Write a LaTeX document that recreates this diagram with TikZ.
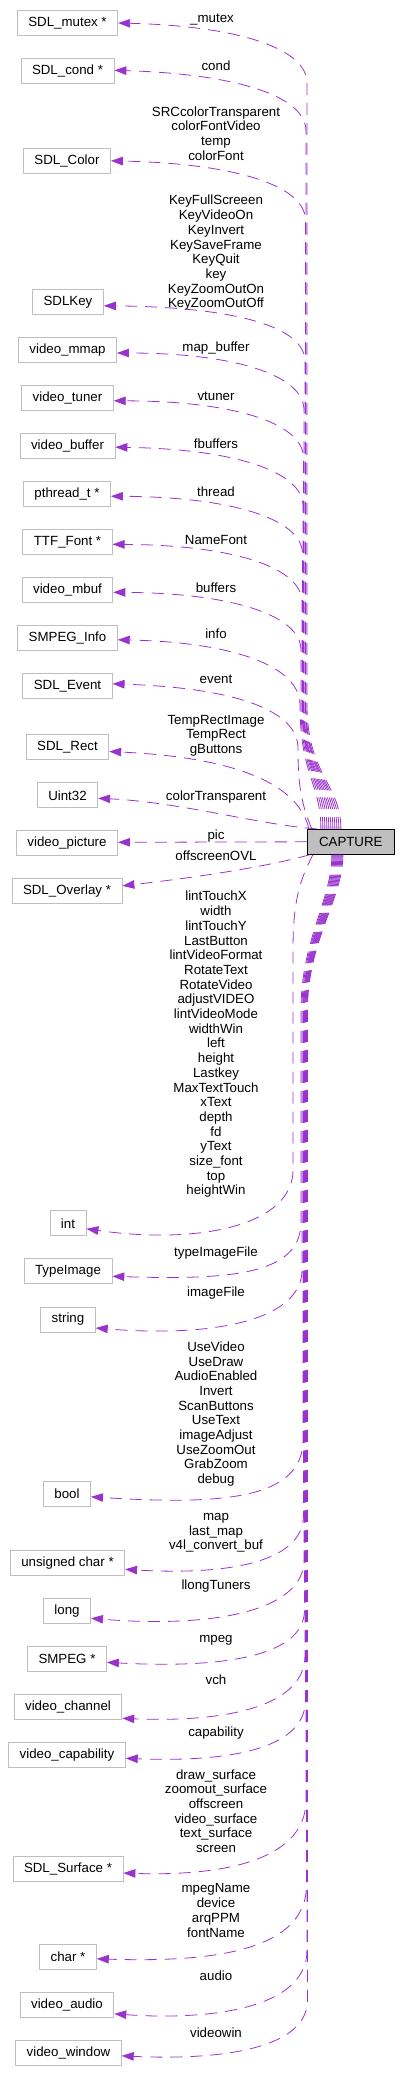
\documentclass[tikz,border=0pt]{standalone}
\usepackage{fontspec}
\setmainfont{Liberation Sans}
\usepackage{xcolor}
\usepackage{tikz}
\usetikzlibrary{arrows.meta}
\definecolor{boxgray}{HTML}{BFBFBF}
\definecolor{deppurple}{HTML}{9A32CD}

\begin{document}
\begin{tikzpicture}[x=1pt, y=-1pt, font=\fontsize{13.3}{14.7}\selectfont, >={Triangle[length=12pt, width=8.5pt]},
  box/.style={draw=boxgray, line width=0.8pt, minimum height=25pt, inner xsep=11pt, inner ysep=0pt},
  mainbox/.style={box, draw=black, fill=boxgray, minimum width=87pt},
  lbl/.style={align=center, inner sep=0pt},
  dep/.style={->, draw=deppurple, line width=0.8pt, dash pattern=on 12pt off 8pt}]
\useasboundingbox (0,0) rectangle (401,2083);
\node[mainbox] (capture) at (350.8,841.8) {CAPTURE};
\node[box] (mutex) at (67.5,23) {SDL\_mutex *};
\node[box] (cond) at (67.5,71.3) {SDL\_cond *};
\node[box] (sdlcolor) at (67,160.8) {SDL\_Color};
\node[box] (sdlkey) at (68,301.8) {SDLKey};
\node[box] (mmap) at (67.5,350) {video\_mmap};
\node[box] (tuner) at (67.5,397.8) {video\_tuner};
\node[box] (vbuffer) at (67.5,445.7) {video\_buffer};
\node[box] (pthread) at (67,493.7) {pthread\_t *};
\node[box] (ttffont) at (67.5,541.8) {TTF\_Font *};
\node[box] (mbuf) at (67.5,589.8) {video\_mbuf};
\node[box] (smpeginfo) at (67.5,637.8) {SMPEG\_Info};
\node[box] (sdlevent) at (67.5,685.8) {SDL\_Event};
\node[box] (sdlrect) at (67.5,747) {SDL\_Rect};
\node[box] (uint) at (67.5,795.3) {Uint32};
\node[box] (picture) at (67,843.3) {video\_picture};
\node[box] (overlay) at (67,891.3) {SDL\_Overlay *};
\node[box] (tint) at (68,1223.3) {int};
\node[box] (timage) at (68,1271.3) {TypeImage};
\node[box] (tstring) at (68,1319.5) {string};
\node[box] (tbool) at (67,1493.8) {bool};
\node[box] (uchar) at (67.5,1563.3) {unsigned char *};
\node[box] (tlong) at (67,1611.3) {long};
\node[box] (smpeg) at (67,1659.3) {SMPEG *};
\node[box] (vchannel) at (68,1707.3) {video\_channel};
\node[box] (vcap) at (67,1755.3) {video\_capability};
\node[box] (surface) at (68,1869) {SDL\_Surface *};
\node[box] (charp) at (68,1956.8) {char *};
\node[box] (vaudio) at (67,2004.8) {video\_audio};
\node[box] (vwindow) at (68.5,2052.8) {video\_window};
\node[lbl] (lmutex) at (212,20) {\_mutex};
\node[lbl] (lcond) at (216,66) {cond};
\node[lbl] (lcolor) at (216,133.5) {SRCcolorTransparent\\colorFontVideo\\temp\\colorFont};
\node[lbl] (lkey) at (216,253) {KeyFullScreeen\\KeyVideoOn\\KeyInvert\\KeySaveFrame\\KeyQuit\\key\\KeyZoomOutOn\\KeyZoomOutOff};
\node[lbl] (lmmap) at (216,348) {map\_buffer};
\node[lbl] (ltuner) at (216,396) {vtuner};
\node[lbl] (lvbuffer) at (216,443.5) {fbuffers};
\node[lbl] (lpthread) at (216,492) {thread};
\node[lbl] (lttffont) at (216,539.5) {NameFont};
\node[lbl] (lmbuf) at (216,588) {buffers};
\node[lbl] (lsmpeginfo) at (216,633.5) {info};
\node[lbl] (lsdlevent) at (216,679.5) {event};
\node[lbl] (lsdlrect) at (216,735.5) {TempRectImage\\TempRect\\gButtons};
\node[lbl] (luint) at (216,797) {colorTransparent};
\node[lbl] (lpicture) at (216,836) {pic};
\node[lbl] (loverlay) at (216,856) {offscreenOVL};
\node[lbl] (ltint) at (216,1044.5) {lintTouchX\\width\\lintTouchY\\LastButton\\lintVideoFormat\\RotateText\\RotateVideo\\adjustVIDEO\\lintVideoMode\\widthWin\\left\\height\\Lastkey\\MaxTextTouch\\xText\\depth\\fd\\yText\\size\_font\\top\\heightWin};
\node[lbl] (ltimage) at (216,1253) {typeImageFile};
\node[lbl] (ltstring) at (216,1293) {imageFile};
\node[lbl] (ltbool) at (216,1414) {UseVideo\\UseDraw\\AudioEnabled\\Invert\\ScanButtons\\UseText\\imageAdjust\\UseZoomOut\\GrabZoom\\debug};
\node[lbl] (luchar) at (216,1533) {map\\last\_map\\v4l\_convert\_buf};
\node[lbl] (ltlong) at (216,1586) {llongTuners};
\node[lbl] (lsmpeg) at (216,1640) {mpeg};
\node[lbl] (lvchannel) at (216,1680) {vch};
\node[lbl] (lvcap) at (216,1733.5) {capability};
\node[lbl] (lsurface) at (216,1811) {draw\_surface\\zoomout\_surface\\offscreen\\video\_surface\\text\_surface\\screen};
\node[lbl] (lcharp) at (216,1910.5) {mpegName\\device\\arqPPM\\fontName};
\node[lbl] (lvaudio) at (216,1976) {audio};
\node[lbl] (lvwindow) at (216,2033) {videowin};
\draw[dep] ([xshift=34pt]capture.north west) .. controls +(0,-45) and +(0,70) .. (307,705) -- (307,83) .. controls (307,48) and (237,26) .. (mutex.east);
\draw[dep] ([xshift=32pt]capture.north west) .. controls +(0,-45) and +(0,70) .. (306,705) -- (306,131) .. controls (306,96) and (236,74) .. ([yshift=1pt]cond.east);
\draw[dep] ([xshift=30pt]capture.north west) .. controls +(0,-45) and +(0,70) .. (305.5,705) -- (305.5,220.5) .. controls (305.5,185.5) and (235.5,163.5) .. (sdlcolor.east);
\draw[dep] ([xshift=28pt]capture.north west) .. controls +(0,-45) and +(0,70) .. (305,705) -- (305,361.5) .. controls (305,326.5) and (235,307) .. ([yshift=-4pt]sdlkey.east);
\draw[dep] ([xshift=26pt]capture.north west) .. controls +(0,-45) and +(0,70) .. (304,705) -- (304,410) .. controls (304,375) and (234,353) .. ([yshift=-3pt]mmap.east);
\draw[dep] ([xshift=24pt]capture.north west) .. controls +(0,-45) and +(0,70) .. (303.5,705) -- (303.5,458) .. controls (303.5,423) and (233.5,401) .. ([yshift=-3pt]tuner.east);
\draw[dep] ([xshift=22pt]capture.north west) .. controls +(0,-45) and +(0,70) .. (303,705) -- (303,506) .. controls (303,471) and (233,449) .. ([yshift=-1.5pt]vbuffer.east);
\draw[dep] ([xshift=20pt]capture.north west) .. controls +(0,-45) and +(0,70) .. (302.5,705) -- (302.5,554) .. controls (302.5,519) and (232.5,497) .. ([yshift=-2.5pt]pthread.east);
\draw[dep] ([xshift=18pt]capture.north west) .. controls +(0,-45) and +(0,70) .. (302,705) -- (302,602) .. controls (302,567) and (232,545) .. ([yshift=-2.5pt]ttffont.east);
\draw[dep] ([xshift=16pt]capture.north west) .. controls +(0,-45) and +(0,70) .. (301,705) -- (301,650) .. controls (301,615) and (231,593) .. ([yshift=-2.5pt]mbuf.east);
\draw[dep] ([xshift=14pt]capture.north west) .. controls +(0,-45) and +(0,70) .. (300,705) .. controls (300,665) and (230,642) .. ([yshift=-2pt]smpeginfo.east);
\draw[dep] ([xshift=5pt]capture.north west) .. controls (299,800) and (298,775) .. (298,748) .. controls (298,712) and (240,688) .. ([yshift=2pt]sdlevent.east);
\draw[dep] ([xshift=2pt]capture.north west) .. controls (300,790) and (250,758) .. ([yshift=-4.5pt]sdlrect.east);
\draw[dep] ([xshift=10pt]capture.north west) .. controls (260,825) and (180,802) .. ([yshift=-3pt]uint.east);
\draw[dep] (capture.west) -- ([yshift=1pt]picture.east);
\draw[dep] ([xshift=3pt]capture.south west) .. controls (270,866) and (200,877) .. ([yshift=5.5pt]overlay.east);
\draw[dep] ([xshift=6pt]capture.south west) .. controls (300,880) and (293,900) .. (293,950) -- (293,1170) .. controls (293,1225) and (200,1245) .. ([yshift=-5.5pt]tint.east);
\draw[dep] ([xshift=25pt]capture.south west) .. controls +(0,45) and +(0,-70) .. (301,1010) -- (301,1222) .. controls (301,1275) and (230,1280) .. ([yshift=-5pt]timage.east);
\draw[dep] ([xshift=26pt]capture.south west) .. controls +(0,45) and +(0,-70) .. (302,1010) -- (302,1270) .. controls (302,1318) and (220,1338) .. ([yshift=-8.5pt]tstring.east);
\draw[dep] ([xshift=27pt]capture.south west) .. controls +(0,45) and +(0,-70) .. (303,1010) -- (303,1440) .. controls (303,1500) and (220,1505) .. ([yshift=-3pt]tbool.east);
\draw[dep] ([xshift=28pt]capture.south west) .. controls +(0,45) and +(0,-70) .. (303.5,1010) -- (303.5,1515) .. controls (303.5,1565) and (220,1575) .. ([yshift=-6pt]uchar.east);
\draw[dep] ([xshift=29pt]capture.south west) .. controls +(0,45) and +(0,-70) .. (304,1010) -- (304,1560) .. controls (304,1612) and (210,1628) .. ([yshift=-7pt]tlong.east);
\draw[dep] ([xshift=30pt]capture.south west) .. controls +(0,45) and +(0,-70) .. (304.5,1010) -- (304.5,1610) .. controls (304.5,1660) and (210,1668) .. ([yshift=-3pt]smpeg.east);
\draw[dep] ([xshift=31pt]capture.south west) .. controls +(0,45) and +(0,-70) .. (305,1010) -- (305,1655) .. controls (305,1712) and (210,1722) .. ([yshift=-11pt]vchannel.east);
\draw[dep] ([xshift=32pt]capture.south west) .. controls +(0,45) and +(0,-70) .. (305.5,1010) -- (305.5,1700) .. controls (305.5,1752) and (220,1762) .. ([yshift=-3pt]vcap.east);
\draw[dep] ([xshift=33pt]capture.south west) .. controls +(0,45) and +(0,-70) .. (306,1010) -- (306,1800) .. controls (306,1865) and (210,1876) .. ([yshift=-4pt]surface.east);
\draw[dep] ([xshift=34pt]capture.south west) .. controls +(0,45) and +(0,-70) .. (306.5,1010) -- (306.5,1885) .. controls (306.5,1955) and (200,1962) .. ([yshift=-2pt]charp.east);
\draw[dep] ([xshift=35pt]capture.south west) .. controls +(0,45) and +(0,-70) .. (307,1010) -- (307,1950) .. controls (307,2012) and (200,2020) .. ([yshift=-9pt]vaudio.east);
\draw[dep] ([xshift=36pt]capture.south west) .. controls +(0,45) and +(0,-70) .. (307.5,1010) -- (307.5,2000) .. controls (307.5,2052) and (210,2060) .. ([yshift=-3pt]vwindow.east);
\end{tikzpicture}
\end{document}
